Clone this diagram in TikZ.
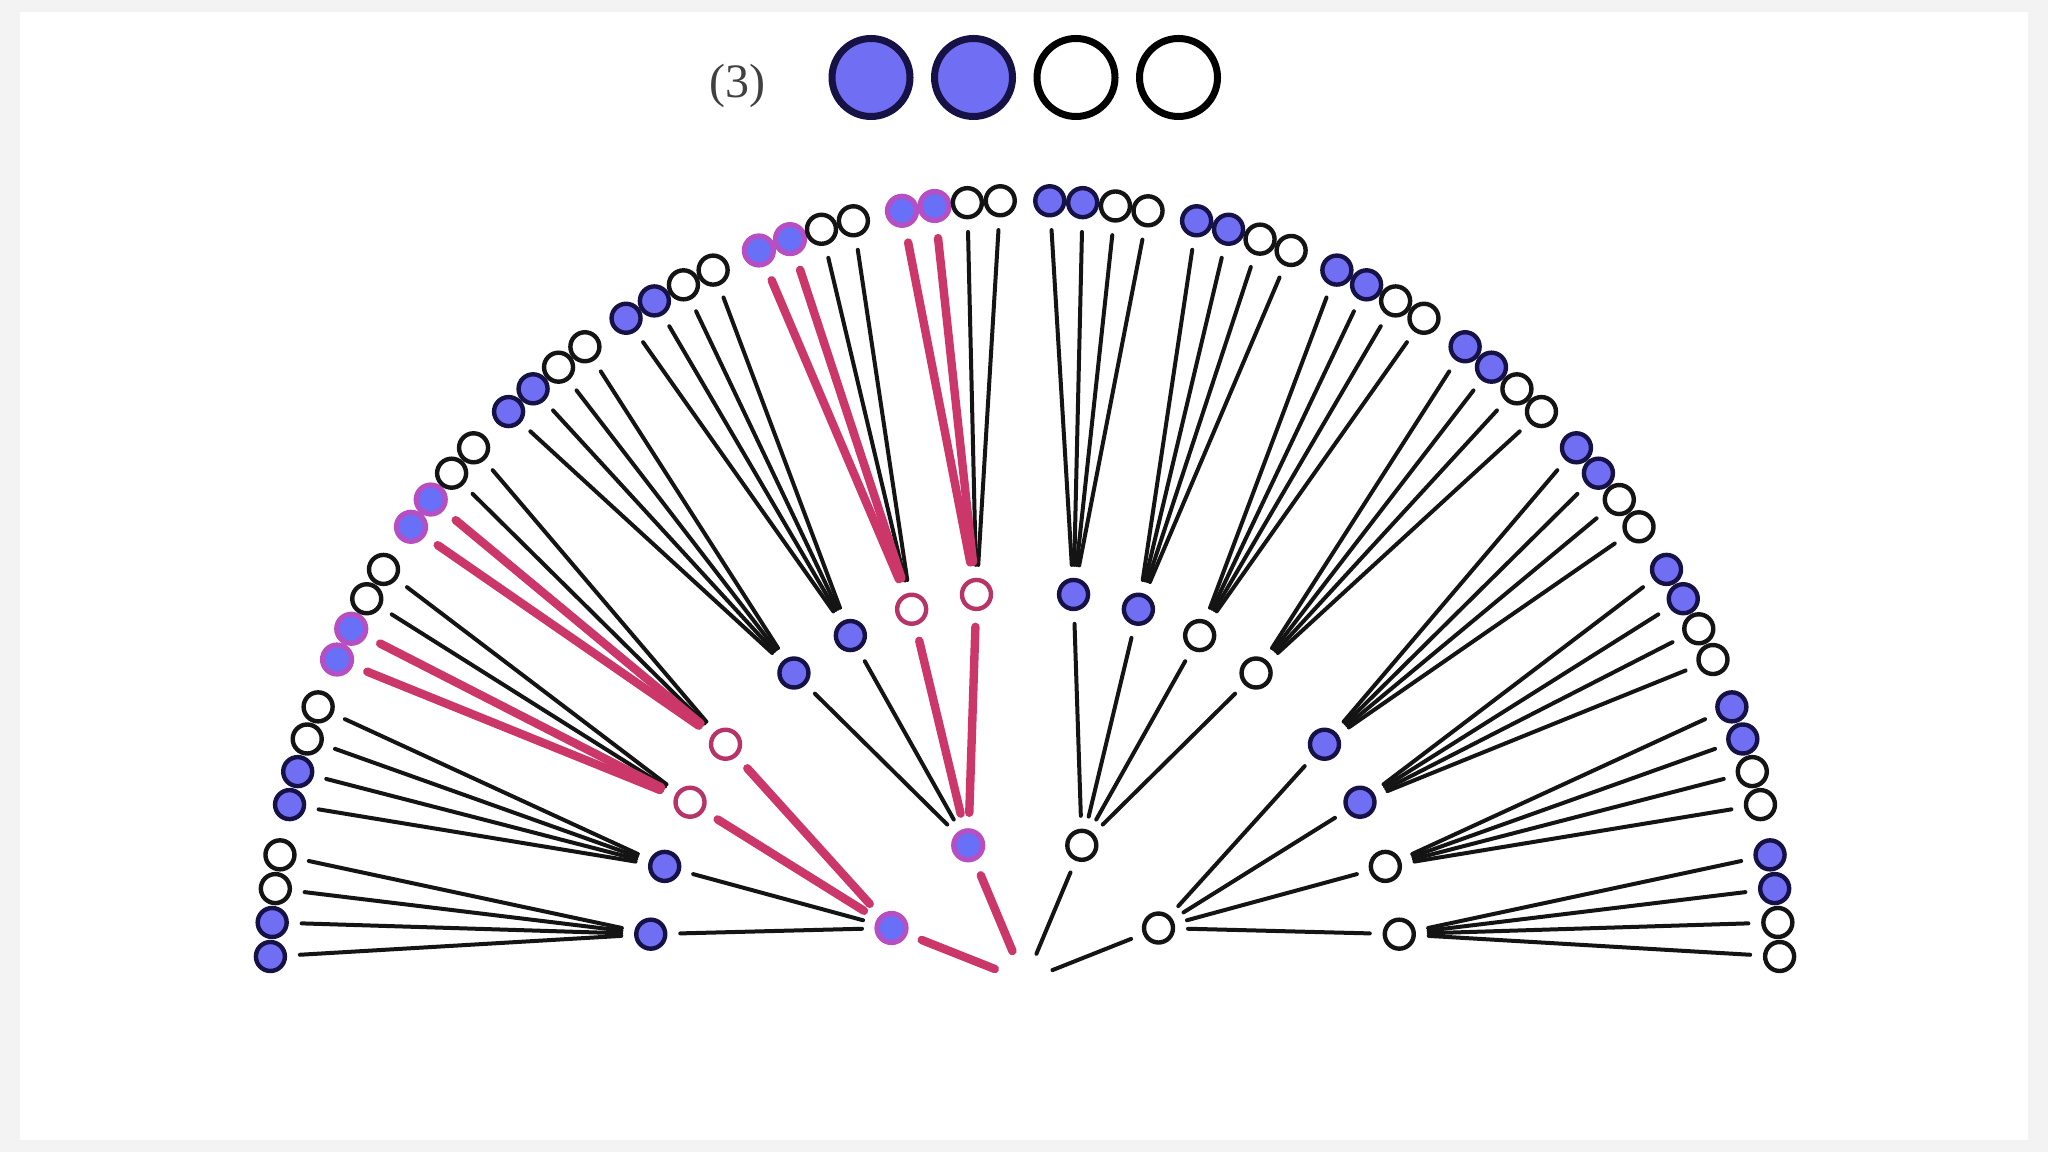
\documentclass[tikz,border=0pt]{standalone}
\usepackage{fontspec}
\setmainfont{Liberation Serif}
\definecolor{bfill}{RGB}{112,110,242}
\definecolor{bnavy}{RGB}{22,18,70}
\definecolor{pedge}{RGB}{204,55,105}
\definecolor{pring}{RGB}{182,78,196}
\definecolor{popen}{RGB}{182,52,104}
\definecolor{pfill}{RGB}{104,112,248}
\definecolor{frame}{RGB}{243,243,243}
\begin{document}
\begin{tikzpicture}[x=0.5pt,y=0.5pt,
  dot/.style={circle,minimum size=14.5pt,inner sep=0pt,outer sep=0pt,line width=2.2pt},
  filled/.style={dot,fill=bfill,draw=bnavy},
  hollow/.style={dot,fill=white,draw=black!92},
  pinkfilled/.style={dot,fill=pfill,draw=pring,line width=2.6pt},
  pinkhollow/.style={dot,fill=white,draw=popen},
  legF/.style={circle,minimum size=39pt,inner sep=0pt,line width=3.5pt,fill=bfill,draw=bnavy},
  legO/.style={circle,minimum size=39pt,inner sep=0pt,line width=3.5pt,fill=white,draw=black},
  edgeK/.style={draw=black!92,line width=2pt,line cap=round,shorten <=7.5pt,shorten >=7.5pt},
  edgeP/.style={draw=pedge,line width=4.2pt,line cap=round,shorten <=9pt,shorten >=9pt},
]
\useasboundingbox (0,0) rectangle (2048,1152);
\fill[frame] (0,0) rectangle (2048,1152);
\fill[white] (20,12) rectangle (2028,1140);

% legend
\node[font=\fontsize{24pt}{28pt}\selectfont,text=black!75] (lbl) at (737,1066.5) {(3)};
\node[legF] (g1) at (871,1074.5) {};
\node[legF] (g2) at (973.5,1074.5) {};
\node[legO] (g3) at (1076,1074.5) {};
\node[legO] (g4) at (1178.5,1074.5) {};

\begin{scope}[shift={(1025,171)},yscale=1.034]
\node[dot,draw=none] (root) at (0,0) {};
% level 1
\foreach \a/\s [count=\i from 0] in {159.0/pinkfilled,113.4/pinkfilled,66.6/hollow,21.0/hollow}
  \node[\s] (a\i) at (\a:143) {};
% level 2
\foreach \a/\s [count=\i from 0] in {173.1/filled,162.9/filled,152.7/pinkhollow,142.6/pinkhollow,
  127.8/filled,117.6/filled,107.5/pinkhollow,97.4/pinkhollow,
  82.6/filled,72.5/filled,62.4/hollow,52.2/hollow,
  37.4/filled,27.3/filled,17.1/hollow,6.9/hollow}
  \node[\s] (b\i) at (\a:377) {};
% leaves
\foreach \g in {0,...,15}{
  \foreach \k in {0,...,3}{
    \pgfmathtruncatemacro\idx{4*\g+\k}
    \pgfmathsetmacro\ang{178.2-11.26*\g-2.5*\k}
    \pgfmathtruncatemacro\pk{and(or(or(\g==2,\g==3),or(\g==6,\g==7)),\k<2)}
    \pgfmathtruncatemacro\fl{\k<2}
    \ifnum\pk=1
      \node[pinkfilled] (c\idx) at (\ang:755) {};
    \else
      \ifnum\fl=1
        \node[filled] (c\idx) at (\ang:755) {};
      \else
        \node[hollow] (c\idx) at (\ang:755) {};
      \fi
    \fi
  }
}
% black edges
\foreach \i in {2,3} \draw[edgeK] (root) -- (a\i);
\foreach \i in {0,...,3}{
  \foreach \j in {0,...,3}{
    \pgfmathtruncatemacro\m{4*\i+\j}
    \pgfmathtruncatemacro\isp{and(\i<2,\j>1)}
    \ifnum\isp=0 \draw[edgeK] (a\i) -- (b\m);\fi
  }
}
\foreach \m in {0,...,15}{
  \foreach \k in {0,...,3}{
    \pgfmathtruncatemacro\n{4*\m+\k}
    \pgfmathtruncatemacro\isp{and(or(or(\m==2,\m==3),or(\m==6,\m==7)),\k<2)}
    \ifnum\isp=0 \draw[edgeK] (b\m) -- (c\n);\fi
  }
}
% pink edges
\foreach \i in {0,1} \draw[edgeP] (root) -- (a\i);
\foreach \i/\m in {0/2,0/3,1/6,1/7} \draw[edgeP] (a\i) -- (b\m);
\foreach \m in {2,3,6,7}{
  \foreach \k in {0,1}{
    \pgfmathtruncatemacro\n{4*\m+\k}
    \draw[edgeP] (b\m) -- (c\n);
  }
}
\end{scope}
\end{tikzpicture}
\end{document}
